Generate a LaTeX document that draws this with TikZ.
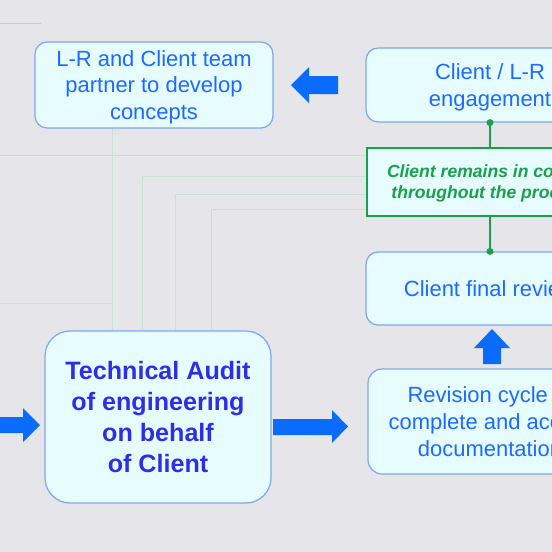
\documentclass[tikz,border=0pt]{standalone}
\usepackage{fontspec}
\setmainfont{Liberation Sans}
\definecolor{bg}{HTML}{E6E6EA}
\definecolor{boxfill}{HTML}{E6FCFF}
\definecolor{boxline}{HTML}{7EA6F2}
\definecolor{boxtext}{HTML}{1A6BFF}
\definecolor{audittext}{HTML}{2E2EE6}
\definecolor{arrowblue}{HTML}{0A6CFF}
\definecolor{keepgreen}{HTML}{16A248}
\definecolor{thinline}{HTML}{C6E2D6}

\begin{document}
\begin{tikzpicture}[x=0.02cm, y=-0.02cm,
    box/.style={draw=boxline, line width=0.7pt, fill=boxfill, rounded corners=0.24cm,
                inner sep=0pt, align=center, text=boxtext, text depth=0pt,
                font=\fontsize{12.5}{15.3}\selectfont},
    auditbox/.style={box, rounded corners=0.5cm, text=audittext,
                font=\bfseries\fontsize{14.3}{17.6}\selectfont},
    keepbox/.style={draw=keepgreen, line width=1.4pt, fill=boxfill, inner sep=0pt,
                align=center, text=keepgreen, text depth=0pt,
                font=\bfseries\itshape\fontsize{10}{11.9}\selectfont},
    bigarrow/.style={fill=arrowblue},
    keepline/.style={draw=keepgreen, line width=1.1pt},
    feed/.style={draw=thinline, line width=0.5pt}]
    \useasboundingbox (0,0) rectangle (552,552);
    \clip (0,0) rectangle (552,552);
    \fill[bg] (0,0) rectangle (552,552);

    % thin lines behind the boxes
    \draw[draw=black!20, line width=0.5pt] (0,23) -- (41,23);
    \draw[feed] (112,128) -- (112,331);
    \draw[feed] (0,155) -- (367,155);
    \draw[feed] (0,303) -- (112,303);
    \draw[feed] (142,331) |- (367,176);
    \draw[feed] (175,331) |- (367,194);
    \draw[feed] (211,331) |- (367,209);

    % boxes
    \node[box, minimum width=4.76cm, minimum height=1.72cm] (concepts) at (154,85)
        {L-R and Client team\\partner to develop\\concepts};
    \node[box, minimum width=4.96cm, minimum height=1.48cm] (engage) at (490,85)
        {Client / L-R\\engagement};
    \node[keepbox, minimum width=4.92cm, minimum height=1.36cm] (control) at (490,182)
        {Client remains in control\\throughout the process};
    \node[box, minimum width=4.96cm, minimum height=1.46cm] (review) at (490,288.5)
        {Client final review};
    \node[box, rounded corners=0.28cm, minimum width=4.88cm, minimum height=2.1cm] (revision) at (490,421.5)
        {Revision cycle to\\complete and accept\\documentation};
    \node[auditbox, minimum width=4.52cm, minimum height=3.44cm] (audit) at (158,417)
        {Technical Audit\\of engineering\\on behalf\\of Client};

    % green links
    \draw[keepline] (engage.south) -- (control.north);
    \draw[keepline] (control.south) -- (review.north);
    \fill[keepgreen] (engage.south) circle (2pt);
    \fill[keepgreen] (review.north) circle (2pt);

    % block arrows
    \fill[bigarrow] (291,85) -- (309,67) -- (309,76) -- (338,76) -- (338,94)
        -- (309,94) -- (309,103) -- cycle;
    \fill[bigarrow] (273,419) -- (332,419) -- (332,410) -- (348,426.5) -- (332,443)
        -- (332,435) -- (273,435) -- cycle;
    \fill[bigarrow] (-5,417) -- (23,417) -- (23,408) -- (40,425) -- (23,442)
        -- (23,433) -- (-5,433) -- cycle;
    \fill[bigarrow] (483,364) -- (483,348) -- (474,348) -- (492,329) -- (510,348)
        -- (501,348) -- (501,364) -- cycle;
\end{tikzpicture}
\end{document}
